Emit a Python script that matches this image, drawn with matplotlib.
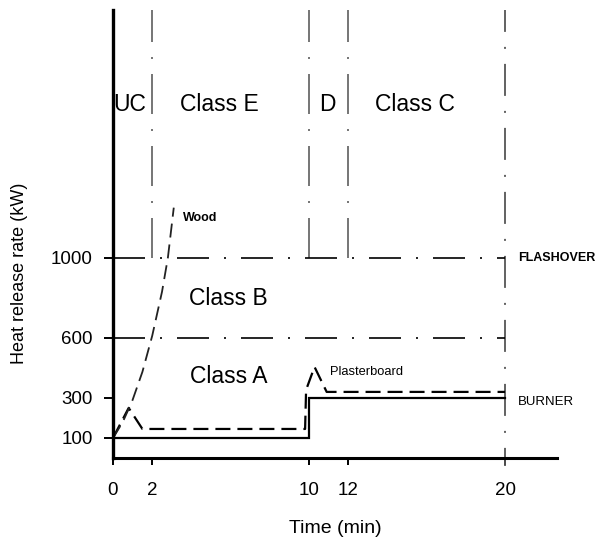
import matplotlib
matplotlib.use("Agg")
import matplotlib.pyplot as plt
from matplotlib import font_manager as fm

# ---------------- data ----------------
x_ticks = [0, 2, 10, 12, 20]
y_ticks = [100, 300, 600, 1000]
class_boundaries = [2, 10, 12]      # vertical boundaries down to flashover
end_time = 20
flashover = 1000
class_ab_limit = 600

burner_t = [0, 10, 10, 20]
burner_q = [100, 100, 300, 300]

wood_t = [0, 0.5, 1.0, 1.5, 2.0, 2.5, 2.8, 3.1]
wood_q = [100, 180, 290, 430, 610, 830, 1000, 1250]

plaster_t = [0, 0.8, 1.5, 9.8, 9.85, 10.28, 10.9, 20]
plaster_q = [100, 250, 145, 145, 340, 455, 330, 330]

zone_labels = ["UC", "Class E", "D", "Class C"]
zone_label_x = [0.87, 5.45, 10.92, 15.4]
class_labels = ["Class B", "Class A"]
class_label_xy = [(5.87, 795), (5.9, 405)]

# ---------------- fonts ----------------
def have(name):
    try:
        fm.findfont(fm.FontProperties(family=name), fallback_to_default=False)
        return True
    except Exception:
        return False

base = "Liberation Sans"
narrow = "Liberation Sans Narrow" if have("Liberation Sans Narrow") else base
big_size = 18.5 if narrow != base else 16.5
plt.rcParams['font.family'] = [base, 'DejaVu Sans']
plt.rcParams['lines.scale_dashes'] = False

fig = plt.figure(figsize=(5.99, 5.39), dpi=100)
ax = fig.add_axes([113/599, 1 - 458/539, (557-113)/599, (458-10)/539])
ax.set_xlim(0, 22.65)
ax.set_ylim(0, 2237)

px = 0.72  # points per pixel at 100 dpi
dashdot = (0, (32*px, 15*px, 2*px, 15*px))

# vertical class boundaries
for xb in class_boundaries:
    ax.plot([xb, xb], [flashover, 2237], color='#6a6a6a', lw=1.3,
            linestyle=(0, (40*px, 15*px, 2*px, 15*px)), clip_on=False)
ax.plot([end_time, end_time], [-40, 2237], color='#555555', lw=1.3,
        linestyle=(10, (32*px, 15*px, 2*px, 15*px)), clip_on=False)

# horizontal flashover / class limit
for yh in [flashover, class_ab_limit]:
    ax.plot([0, end_time], [yh, yh], color='black', lw=1.2, linestyle=dashdot)

# curves
ax.plot(burner_t, burner_q, color='black', lw=1.6, solid_joinstyle='miter')
ax.plot(plaster_t, plaster_q, color='black', lw=1.6,
        linestyle=(0, (15*px, 7*px)))
ax.plot(wood_t, wood_q, color='#222222', lw=1.3,
        linestyle=(0, (14*px, 7*px)))

# spines
for s in ['top', 'right']:
    ax.spines[s].set_visible(False)
ax.spines['left'].set_linewidth(2.4)
ax.spines['bottom'].set_linewidth(2.2)

ax.set_xticks(x_ticks)
ax.set_xticklabels([str(v) for v in x_ticks])
ax.set_yticks(y_ticks)
ax.set_yticklabels([str(v) for v in y_ticks])
ax.tick_params(axis='x', direction='out', length=7*px, width=1.4,
               pad=17*px, labelsize=13.5)
ax.tick_params(axis='y', direction='out', length=9*px, width=1.4,
               pad=11*px, labelsize=13.5)

ax.set_xlabel("Time (min)", fontsize=14, labelpad=15)
ax.set_ylabel("Heat release rate (kW)", fontsize=13)
ax.yaxis.set_label_coords(-(113-28)/444, (458-273)/448)

# zone labels
for lab, xl in zip(zone_labels, zone_label_x):
    ax.text(xl, 1767, lab, ha='center', va='center', fontsize=big_size,
            family=[narrow, 'DejaVu Sans'])
for lab, (xl, yl) in zip(class_labels, class_label_xy):
    ax.text(xl, yl, lab, ha='center', va='center', fontsize=big_size,
            family=[narrow, 'DejaVu Sans'])

ax.text(3.57, 1197, "Wood", ha='left', va='center', fontsize=9,
        fontweight='bold')
ax.text(11.07, 427, "Plasterboard", ha='left', va='center', fontsize=9.3)
ax.text(20.66, 997, "FLASHOVER", ha='left', va='center', fontsize=9,
        fontweight='bold', clip_on=False)
ax.text(20.66, 282, "BURNER", ha='left', va='center', fontsize=9.5,
        clip_on=False)

fig.savefig("out.png", dpi=100)
